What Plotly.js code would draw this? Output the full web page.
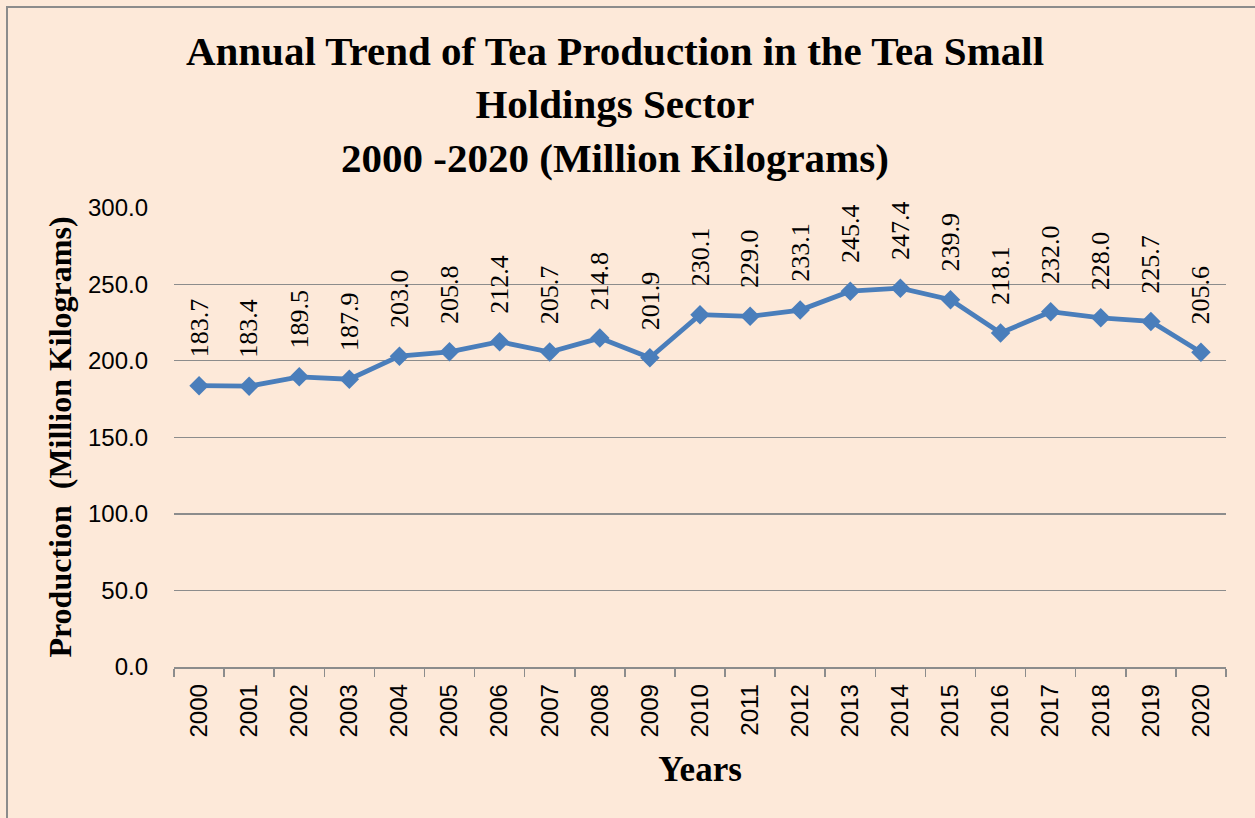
<!DOCTYPE html>
<html>
<head>
<meta charset="utf-8">
<script src="https://cdn.plot.ly/plotly-3.0.1.min.js"></script>
<style>
  html, body { margin: 0; padding: 0; background: #FDE9D9; overflow: hidden; }
  #chart { width: 1255px; height: 818px; }
  #frame { position: absolute; left: 6px; top: 6px; width: 2000px; height: 2000px;
           border-left: 2px solid #8c8c8c; border-top: 2px solid #8c8c8c; pointer-events: none; }
</style>
</head>
<body>
<div id="chart"></div>
<div id="frame"></div>
<script>
const years = ['2000','2001','2002','2003','2004','2005','2006','2007','2008','2009','2010',
               '2011','2012','2013','2014','2015','2016','2017','2018','2019','2020'];
const production = [183.7,183.4,189.5,187.9,203.0,205.8,212.4,205.7,214.8,201.9,230.1,
                    229.0,233.1,245.4,247.4,239.9,218.1,232.0,228.0,225.7,205.6];
const titleLines = ['Annual Trend of Tea Production in the Tea Small', 'Holdings Sector', '2000 -2020 (Million Kilograms)'];
const yTitle = 'Production&nbsp; (Million Kilograms)';
const xTitle = 'Years';

const blue = '#4A7EBB';
const grid = '#8c8c8c';

const trace = {
  type: 'scatter',
  mode: 'lines+markers',
  x: years,
  y: production,
  line: { color: blue, width: 4.8 },
  marker: { symbol: 'diamond', size: 15, color: blue },
  hoverinfo: 'x+y'
};

// data labels: category axis positions are given by category index
const labels = years.map((yr, i) => ({
  x: i, y: production[i], xref: 'x', yref: 'y',
  text: production[i].toFixed(1),
  showarrow: false, textangle: -90,
  xanchor: 'center', yanchor: 'bottom', yshift: 26,
  font: { family: '"Liberation Serif", "Times New Roman", serif', size: 26, color: '#000' }
}));

const layout = {
  width: 1255, height: 818,
  paper_bgcolor: '#FDE9D9',
  plot_bgcolor: '#FDE9D9',
  showlegend: false,
  margin: { l: 174, r: 29, t: 207, b: 151, pad: 0 },
  title: {
    text: titleLines.map(s => '<b>' + s + '</b>').join('<br>'),
    font: { family: '"Liberation Serif", "Times New Roman", serif', size: 41, color: '#000' },
    x: 615 / 1255, xanchor: 'center', xref: 'container',
    y: 1 - 65 / 818, yanchor: 'top', yref: 'container'
  },
  xaxis: {
    type: 'category',
    range: [-0.5, 20.5],
    showgrid: false,
    zeroline: false,
    showline: true, linecolor: grid, linewidth: 1.5,
    ticks: 'outside', tickson: 'boundaries', ticklen: 8, tickcolor: grid, tickwidth: 1.5,
    tickangle: -90,
    ticklabelstandoff: 6,
    tickfont: { family: '"Liberation Sans", Arial, sans-serif', size: 24, color: '#000' },
    title: {
      text: '<b>' + xTitle + '</b>',
      font: { family: '"Liberation Serif", "Times New Roman", serif', size: 35, color: '#000' },
      standoff: 20
    },
    automargin: false
  },
  yaxis: {
    range: [0, 300.4],
    tickvals: [0, 50, 100, 150, 200, 250, 300],
    tickformat: '.1f',
    showgrid: true, gridcolor: grid, gridwidth: 1.3,
    zeroline: false,
    showline: false,
    ticks: '',
    ticklabelstandoff: 25,
    tickfont: { family: '"Liberation Sans", Arial, sans-serif', size: 24, color: '#000' },
    title: {
      text: '<b>' + yTitle + '</b>',
      font: { family: '"Liberation Serif", "Times New Roman", serif', size: 32, color: '#000' },
      standoff: 6
    },
    automargin: false
  },
  annotations: labels
};

Plotly.newPlot('chart', [trace], layout, { displayModeBar: false, staticPlot: true });
</script>
</body>
</html>
